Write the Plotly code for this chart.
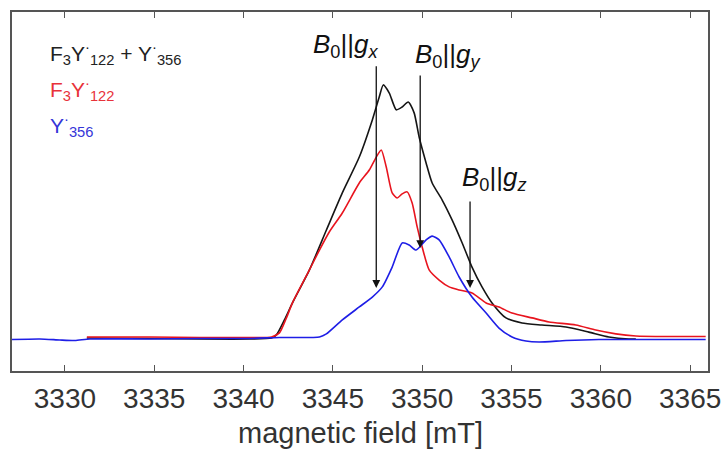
import plotly.graph_objects as go

# Magnetic field (mT) and normalised EPR intensity for each spectrum
field_sum = [3331.23, 3334.75, 3337.54, 3340.34, 3341.57, 3341.84, 3342.29, 3342.74, 3343.69,
             3344.64, 3345.53, 3346.48, 3347.21, 3347.60, 3347.82, 3348.16, 3348.55, 3348.88,
             3349.22, 3349.55, 3349.83, 3350.22, 3350.56, 3351.12, 3351.68, 3352.24, 3352.79,
             3353.35, 3353.91, 3354.69, 3355.59, 3356.70, 3358.05, 3359.33, 3360.45, 3361.57,
             3361.96]
int_sum = [0.008, 0.006, 0.004, 0.004, 0.008, 0.020, 0.079, 0.146, 0.276,
           0.433, 0.579, 0.720, 0.866, 0.957, 1.004, 0.972, 0.906, 0.917,
           0.937, 0.894, 0.799, 0.697, 0.618, 0.551, 0.472, 0.382, 0.287,
           0.209, 0.146, 0.087, 0.067, 0.059, 0.051, 0.031, 0.012, 0.004,
           0.004]

field_f3y = [3331.23, 3334.75, 3337.54, 3340.34, 3341.57, 3342.01, 3342.40, 3342.74, 3343.69,
             3344.25, 3344.80, 3345.53, 3346.48, 3347.04, 3347.43, 3347.71, 3347.99, 3348.32,
             3348.60, 3348.88, 3349.16, 3349.44, 3349.72, 3350.00, 3350.39, 3350.95, 3351.51,
             3352.07, 3352.79, 3353.58, 3354.30, 3355.03, 3356.15, 3357.10, 3358.60, 3359.72,
             3360.84, 3361.96, 3363.80, 3365.87]
int_f3y = [0.012, 0.012, 0.010, 0.010, 0.012, 0.028, 0.087, 0.146, 0.276,
           0.354, 0.425, 0.500, 0.618, 0.669, 0.720, 0.748, 0.681, 0.579,
           0.559, 0.575, 0.583, 0.539, 0.445, 0.366, 0.276, 0.236, 0.209,
           0.197, 0.185, 0.146, 0.130, 0.106, 0.087, 0.071, 0.059, 0.039,
           0.024, 0.016, 0.014, 0.014]

field_y356 = [3327.04, 3328.60, 3329.72, 3330.56, 3331.40, 3334.75, 3337.54, 3340.34, 3342.01,
              3344.25, 3344.64, 3345.53, 3346.48, 3347.21, 3347.77, 3348.32, 3348.88, 3349.27,
              3349.66, 3350.22, 3350.56, 3350.95, 3351.51, 3352.07, 3352.79, 3353.58, 3354.30,
              3355.03, 3355.81, 3356.54, 3358.05, 3359.89, 3362.68, 3365.87]
int_y356 = [0.002, 0.004, 0.000, -0.002, 0.004, 0.004, 0.006, 0.006, 0.010,
            0.012, 0.024, 0.079, 0.130, 0.169, 0.209, 0.287, 0.382, 0.374,
            0.354, 0.394, 0.409, 0.394, 0.327, 0.248, 0.169, 0.106, 0.047,
            0.012, -0.004, -0.008, -0.002, 0.002, 0.002, 0.002]

# g-tensor orientations: field position, arrow start and arrow tip intensity
g_axes = ["x", "y", "z"]
g_field = [3347.43, 3349.89, 3352.68]
g_start = [1.083, 1.047, 0.551]
g_tip = [0.205, 0.362, 0.205]
g_label_x = [3343.80, 3349.50, 3352.12]
g_label_y = [1.160, 1.118, 0.636]

x_ticks = [3330, 3335, 3340, 3345, 3350, 3355, 3360, 3365]
x_title = "magnetic field [mT]"

BLACK = "#151515"
RED = "#e8141e"
BLUE = "#1e1ee6"
FONT = "Liberation Sans, Arial, sans-serif"

fig = go.Figure()
fig.add_trace(go.Scatter(x=field_sum, y=int_sum, mode="lines",
                         line=dict(color=BLACK, width=1.6, shape="spline", smoothing=0.6)))
fig.add_trace(go.Scatter(x=field_f3y, y=int_f3y, mode="lines",
                         line=dict(color=RED, width=1.6, shape="spline", smoothing=0.6)))
fig.add_trace(go.Scatter(x=field_y356, y=int_y356, mode="lines",
                         line=dict(color=BLUE, width=1.6, shape="spline", smoothing=0.6)))

# Arrows marking the canonical orientations
for ax_name, xf, y0, y1, lx, ly in zip(g_axes, g_field, g_start, g_tip, g_label_x, g_label_y):
    fig.add_annotation(x=xf, y=y1, ax=xf, ay=y0, xref="x", yref="y", axref="x", ayref="y",
                       text="", showarrow=True, arrowhead=2, arrowsize=1.2, arrowwidth=1.3,
                       arrowcolor="#111111")
    label = "<i>B</i><sub>0</sub>||<i>g</i><sub><i>" + ax_name + "</i></sub>"
    fig.add_annotation(x=lx, y=ly, xref="x", yref="y", text=label,
                       showarrow=False, xanchor="left", yanchor="middle",
                       font=dict(family=FONT, size=26, color="#111111"))

# Series labels
legend_text = ["F<sub>3</sub>Y<sup>·</sup><sub>122</sub> + Y<sup>·</sup><sub>356</sub>",
               "F<sub>3</sub>Y<sup>·</sup><sub>122</sub>",
               "Y<sup>·</sup><sub>356</sub>"]
legend_y = [1.128, 0.986, 0.846]
legend_col = ["#222222", "#e8323a", "#3535d8"]
for t, ly, c in zip(legend_text, legend_y, legend_col):
    fig.add_annotation(x=3329.05, y=ly, xref="x", yref="y", text=t, showarrow=False,
                       xanchor="left", yanchor="middle",
                       font=dict(family=FONT, size=21, color=c))

# Axis title placed below the tick labels
fig.add_annotation(x=0.5, y=-0.173, xref="paper", yref="paper", text=x_title,
                   showarrow=False, xanchor="center", yanchor="middle",
                   font=dict(family=FONT, size=29, color="#333333"))

fig.update_layout(
    width=726, height=450,
    margin=dict(l=12, r=18, t=12, b=79),
    paper_bgcolor="white", plot_bgcolor="white",
    showlegend=False,
    font=dict(family=FONT, color="#333333"),
)
fig.update_xaxes(
    range=[3327.04, 3366.0], tickvals=x_ticks, ticktext=[str(v) for v in x_ticks],
    ticks="inside", ticklen=6, tickwidth=1.3, tickcolor="#555555",
    showline=True, linecolor="#555555", linewidth=1.6, mirror="ticks",
    showgrid=False, zeroline=False, ticklabelstandoff=2, automargin=False,
    tickfont=dict(family=FONT, size=28, color="#333333"),
)
fig.update_yaxes(
    range=[-0.122, 1.291], showticklabels=False, ticks="", automargin=False,
    showline=True, linecolor="#555555", linewidth=1.6, mirror=True,
    showgrid=False, zeroline=False,
)

fig.write_html("out.html")
